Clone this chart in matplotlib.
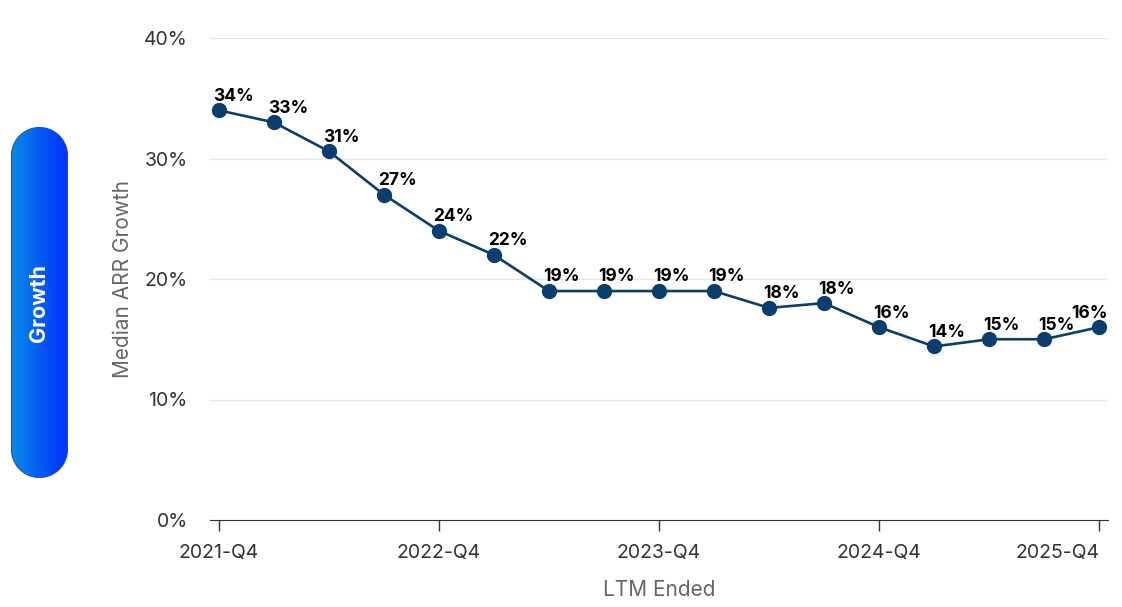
import numpy as np
import matplotlib.pyplot as plt
from matplotlib.patches import PathPatch
from matplotlib.path import Path
from matplotlib.colors import LinearSegmentedColormap

plt.rcParams['font.family'] = ['Inter', 'DejaVu Sans']

# data
quarters = ['2021-Q4', '2022-Q1', '2022-Q2', '2022-Q3', '2022-Q4',
            '2023-Q1', '2023-Q2', '2023-Q3', '2023-Q4',
            '2024-Q1', '2024-Q2', '2024-Q3', '2024-Q4',
            '2025-Q1', '2025-Q2', '2025-Q3', '2025-Q4']
growth = [34, 33, 30.6, 27, 24, 22, 19, 19, 19, 19, 17.6, 18, 16, 14.4, 15, 15, 16]
tick_labels = ['2021-Q4', '2022-Q4', '2023-Q4', '2024-Q4', '2025-Q4']
y_ticks = [0, 10, 20, 30, 40]

W, H = 1122, 607
fig = plt.figure(figsize=(W / 100, H / 100), dpi=100)
fig.patch.set_facecolor('white')

ax = fig.add_axes([210 / W, 1 - 520 / H, 898 / W, 482 / H])
x = np.arange(len(quarters))
line_color = '#0b3d6e'
ax.plot(x, growth, color=line_color, lw=1.9, marker='o', ms=10, zorder=3)

for i, v in enumerate(growth):
    if i == len(growth) - 1:
        ax.annotate(f'{v:.0f}%', (i, v), xytext=(6, 4), textcoords='offset points',
                    ha='right', va='bottom', fontsize=12.5, fontweight='bold', color='black')
    else:
        ax.annotate(f'{v:.0f}%', (i, v), xytext=(-4, 4), textcoords='offset points',
                    ha='left', va='bottom', fontsize=12.5, fontweight='bold', color='black')

ax.set_xlim(-0.16, 16.16)
ax.set_ylim(0, 40)
ax.set_yticks(y_ticks)
ax.set_yticklabels([f'{t}%' for t in y_ticks])
ax.set_xticks([quarters.index(t) for t in tick_labels])
ax.set_xticklabels(tick_labels)
xt = ax.get_xticklabels()
xt[-1].set_horizontalalignment('right')
xt[-1].set_x(16.14)

ax.grid(axis='y', color='#e6e6e6', lw=1)
ax.set_axisbelow(True)
for s in ['top', 'right', 'left']:
    ax.spines[s].set_visible(False)
ax.spines['bottom'].set_color('#333333')
ax.tick_params(axis='y', length=0, pad=16, labelsize=14, labelcolor='#333333')
ax.tick_params(axis='x', length=8, width=1, color='#333333', pad=9,
               labelsize=14, labelcolor='#333333')
ax.set_ylabel('Median ARR Growth', fontsize=15, color='#666666', labelpad=8)
ax.set_xlabel('LTM Ended', fontsize=15, color='#666666', labelpad=13)

# side pill
pw, ph = 57, 351
r = pw / 2
pax = fig.add_axes([11 / W, 1 - 478 / H, pw / W, ph / H])
pax.set_xlim(0, pw)
pax.set_ylim(0, ph)
pax.axis('off')
cmap = LinearSegmentedColormap.from_list('pill', ['#0a8ae6', '#0030ff'])
grad = np.linspace(0, 1, 100).reshape(1, -1)
img = pax.imshow(grad, extent=[0, pw, 0, ph], aspect='auto', cmap=cmap)
t_top = np.linspace(0, np.pi, 60)
t_bot = np.linspace(np.pi, 2 * np.pi, 60)
xs = np.concatenate([r + (r - 0.5) * np.cos(t_top), r + (r - 0.5) * np.cos(t_bot)])
ys = np.concatenate([ph - r + (r - 0.5) * np.sin(t_top), r + (r - 0.5) * np.sin(t_bot)])
verts = np.column_stack([xs, ys])
verts = np.vstack([verts, verts[:1]])
pill = PathPatch(Path(verts, closed=True), facecolor='none', edgecolor='#1a4fd6', lw=0.8)
pax.add_patch(pill)
img.set_clip_path(pill)
pax.text(pw / 2, ph / 2, 'Growth', rotation=90, ha='center', va='center',
         color='white', fontsize=15.5, fontweight='bold')

fig.savefig('out.png', dpi=100)
